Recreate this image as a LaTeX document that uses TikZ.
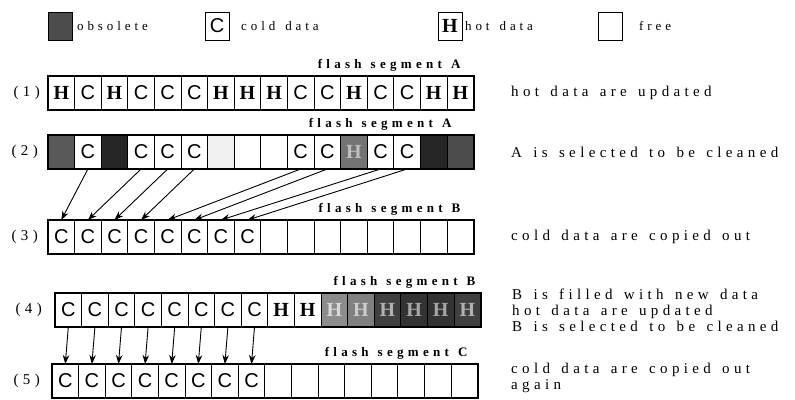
\documentclass[tikz,border=0pt]{standalone}
\usepackage{fontspec}
\setmainfont{Liberation Serif}
\newfontfamily\notefont[LetterSpace=29,WordSpace=1.4]{Liberation Serif}
\newfontfamily\segfont[LetterSpace=33,WordSpace=1.2]{Liberation Serif}
\newfontfamily\legfont[LetterSpace=30,WordSpace=1.4]{Liberation Serif}
\newfontfamily\cellsans{Liberation Sans}
\usepackage{tikz}
\usetikzlibrary{arrows.meta,positioning}

\tikzset{
  cell/.style={draw,line width=0.9pt,minimum width=26.6pt,minimum height=34pt,inner sep=0pt,outer sep=0pt},
  cold/.style={font=\cellsans\fontsize{20}{20}\selectfont},
  hot/.style={font=\bfseries\fontsize{20}{20}\selectfont},
  free/.style={},
  speck/.style={fill=black!6},
  o45/.style={fill=black!45,hot,text=black!15},
  o50/.style={fill=black!50,hot,text=black!20},
  o55/.style={fill=black!55,hot,text=black!25},
  o65/.style={fill=black!65},
  o70/.style={fill=black!70},
  o75/.style={fill=black!75,hot,text=black!30},
  o80/.style={fill=black!80,hot,text=black!35},
  o85/.style={fill=black!85},
  segframe/.style={line width=1.8pt},
  seglab/.style={font=\segfont\bfseries\fontsize{13}{13}\selectfont,inner sep=0pt},
  rowlab/.style={font=\notefont\fontsize{15}{15}\selectfont,inner sep=0pt},
  note/.style={font=\notefont\fontsize{15}{16}\selectfont,anchor=west,align=left,inner sep=0pt},
  legbox/.style={cell,minimum width=24pt,minimum height=28pt},
  legtxt/.style={font=\legfont\fontsize{13}{13}\selectfont,inner sep=0pt},
  arr/.style={-{Stealth[length=9pt,width=6.5pt]},line width=0.9pt}
}

\begin{document}
\begin{tikzpicture}[x=1pt,y=-1pt]
  \useasboundingbox (0,0) rectangle (795,399);
  \def\cw{26.6}

  % legend
  \node[legbox,o70] (legO) at (60,26) {};
  \node[legtxt,right=5pt of legO] (legOt) {obsolete};
  \node[legbox,cold] (legC) at (217,26) {C};
  \node[legtxt,right=12pt of legC] (legCt) {cold data};
  \node[legbox,hot] (legH) at (450,26) {H};
  \node[legtxt,right=3pt of legH] (legHt) {hot data};
  \node[legbox] (legF) at (610,26) {};
  \node[legtxt,right=17pt of legF] (legFt) {free};

  % (1) segment A, hot data updated
  \foreach \s/\t [count=\i from 0] in {hot/H,cold/C,hot/H,cold/C,cold/C,cold/C,hot/H,hot/H,
      hot/H,cold/C,cold/C,hot/H,cold/C,cold/C,hot/H,hot/H}
    \node[cell,\s] (A1-\i) at (48+\cw/2+\i*\cw,93) {\t};
  \draw[segframe] (A1-0.north west) rectangle (A1-15.south east);
  \node[rowlab,left=8pt of A1-0] (r1) {(1)};
  \node[seglab,above left=4pt and 13pt of A1-15.north east] (segA1) {flash segment A};

  % (2) segment A selected
  \foreach \s/\t [count=\i from 0] in {o65/,cold/C,o85/,cold/C,cold/C,cold/C,speck/,free/,
      free/,cold/C,cold/C,o55/H,cold/C,cold/C,o85/,o70/}
    \node[cell,\s] (A2-\i) at (48+\cw/2+\i*\cw,152) {\t};
  \draw[segframe] (A2-0.north west) rectangle (A2-15.south east);
  \node[rowlab,left=10pt of A2-0] (r2) {(2)};
  \node[seglab,above left=4pt and 22pt of A2-15.north east] (segA2) {flash segment A};

  % (3) segment B gets the cold data
  \foreach \s/\t [count=\i from 0] in {cold/C,cold/C,cold/C,cold/C,cold/C,cold/C,cold/C,cold/C,
      free/,free/,free/,free/,free/,free/,free/,free/}
    \node[cell,\s] (B3-\i) at (48+\cw/2+\i*\cw,237) {\t};
  \draw[segframe] (B3-0.north west) rectangle (B3-15.south east);
  \node[rowlab,left=10pt of B3-0] (r3) {(3)};
  \node[seglab,above left=4pt and 13pt of B3-15.north east] (segB3) {flash segment B};

  \foreach \j/\i in {1/0,3/1,4/2,5/3,9/4,10/5,12/6,13/7}
    \draw[arr] (A2-\j.south) -- (B3-\i.north);

  % (4) segment B full
  \foreach \s/\t [count=\i from 0] in {cold/C,cold/C,cold/C,cold/C,cold/C,cold/C,cold/C,cold/C,
      hot/H,hot/H,o45/H,o50/H,o75/H,o80/H,o80/H,o75/H}
    \node[cell,\s] (B4-\i) at (55+\cw/2+\i*\cw,310) {\t};
  \draw[segframe] (B4-0.north west) rectangle (B4-15.south east);
  \node[rowlab,left=13pt of B4-0] (r4) {(4)};
  \node[seglab,above left=4pt and 5pt of B4-15.north east] (segB4) {flash segment B};

  % (5) segment C
  \foreach \s/\t [count=\i from 0] in {cold/C,cold/C,cold/C,cold/C,cold/C,cold/C,cold/C,cold/C,
      free/,free/,free/,free/,free/,free/,free/,free/}
    \node[cell,\s] (C5-\i) at (52+\cw/2+\i*\cw,381) {\t};
  \draw[segframe] (C5-0.north west) rectangle (C5-15.south east);
  \node[rowlab,left=12pt of C5-0] (r5) {(5)};
  \node[seglab,above left=4pt and 10pt of C5-15.north east] (segC5) {flash segment C};

  \foreach \i in {0,...,7}
    \draw[arr] (B4-\i.south) -- (C5-\i.north);

  % notes on the right
  \node[note] (n1) at (511,93) {hot data are updated};
  \node[note] (n2) at (511,152) {A is selected to be cleaned};
  \node[note] (n3) at (511,237) {cold data are copied out};
  \node[note] (n4) at (512,310) {B is filled with new data\\hot data are updated\\B is selected to be cleaned};
  \node[note] (n5) at (511,378) {cold data are copied out\\again};
\end{tikzpicture}
\end{document}
